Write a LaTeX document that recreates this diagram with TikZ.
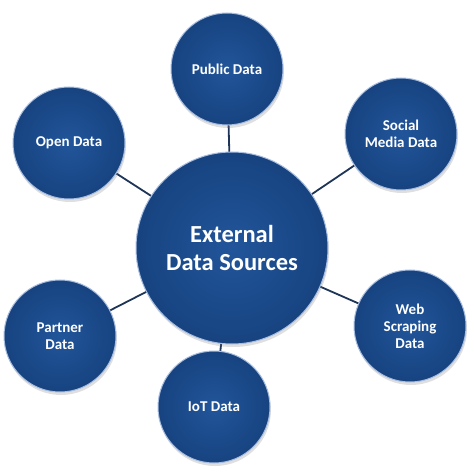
\documentclass[tikz,border=0pt]{standalone}
\usepackage{fontspec}
\setmainfont{Carlito}
\usepackage{tikz}
\usetikzlibrary{shadows,backgrounds}
\definecolor{hubblue}{HTML}{21559A}
\definecolor{hubdark}{HTML}{174380}
\definecolor{hubrim}{HTML}{A8BEE0}
\definecolor{spoke}{HTML}{1E3558}

\begin{document}
\begin{tikzpicture}
     [x=1pt,y=-1pt,
     %the blue discs
     disc/.style={circle,inner sep=0pt,minimum size=112pt,
       inner color=hubblue,outer color=hubdark,
       draw=hubrim,line width=1pt,
       drop shadow={shadow xshift=1pt,shadow yshift=-3pt,opacity=0.25},
       text=white,align=center,font=\bfseries\fontsize{15}{17}\selectfont},
     hub/.style={disc,minimum size=192pt,font=\bfseries\fontsize{24.5}{28}\selectfont},
     spokeline/.style={draw=spoke,line width=1.8pt}]

\useasboundingbox (0,0) rectangle (474,473);

%centre and satellites
  \node[hub] (ext) at (232,248) {External\\Data Sources};
  \node[disc] (pub) at (227,69) {Public Data};
  \node[disc] (open) at (69,143) {Open Data};
  \node[disc] (social) at (401,134) {Social\\Media Data};
  \node[disc] (web) at (410,326) {Web\\Scraping\\Data};
  \node[disc] (partner) at (60,336) {Partner\\Data};
  \node[disc] (iot) at (214,407) {IoT Data};

%connecting lines behind the discs
\begin{scope}[on background layer]
  \draw[spokeline] (ext.center) -- (pub.center);
  \draw[spokeline] (ext.center) -- (open.center);
  \draw[spokeline] (ext.center) -- (social.center);
  \draw[spokeline] (ext.center) -- (web.center);
  \draw[spokeline] (ext.center) -- (partner.center);
  \draw[spokeline] (ext.center) -- (iot.center);
\end{scope}
\end{tikzpicture}
\end{document}
